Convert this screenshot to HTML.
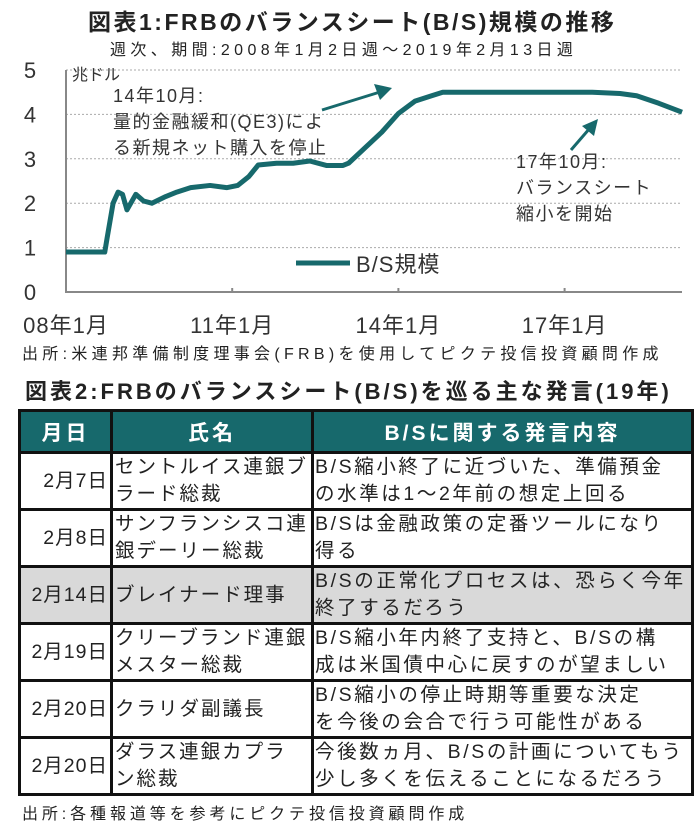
<!DOCTYPE html>
<html><head><meta charset="utf-8">
<style>
body{margin:0;width:700px;height:832px;background:#fff;font-family:"Liberation Sans","Noto Sans CJK JP",sans-serif;color:#222;position:relative;overflow:hidden}
.t{position:absolute;white-space:nowrap}
table{position:absolute;left:18px;top:409px;border-collapse:collapse;width:673px;table-layout:fixed}
td{border:3px solid #111;font-size:19.5px;line-height:27px;padding:0 2px;vertical-align:middle;white-space:nowrap;letter-spacing:2px;overflow:hidden}
td:nth-child(1){letter-spacing:1px}
td:nth-child(3){letter-spacing:2.6px;padding-left:1px}
th{background:#17696c;color:#fff;font-size:21px;height:37px;border:3px solid #111;font-weight:bold;letter-spacing:3px}
tr.r td{height:51px}
</style></head><body>
<div class="t" style="left:88px;top:3px;font-size:23px;font-weight:bold;letter-spacing:2.5px">図表1:FRBのバランスシート(B/S)規模の推移</div>
<div class="t" style="left:110px;top:36px;font-size:16px;letter-spacing:4.4px">週次、期間:2008年1月2日週～2019年2月13日週</div>
<svg id="ch" width="700" height="370" style="position:absolute;left:0;top:0"></svg>
<div class="t" style="left:22px;top:340px;font-size:16px;letter-spacing:4.3px">出所:米連邦準備制度理事会(FRB)を使用してピクテ投信投資顧問作成</div>
<div class="t" style="left:25px;top:374px;font-size:22px;font-weight:bold;letter-spacing:3px">図表2:FRBのバランスシート(B/S)を巡る主な発言(19年)</div>
<table>
<colgroup><col style="width:92px"><col style="width:201px"><col style="width:380px"></colgroup>
<tr><th>月日</th><th>氏名</th><th>B/Sに関する発言内容</th></tr>
<tr class="r"><td style="text-align:right">2月7日</td><td>セントルイス連銀ブ<br>ラード総裁</td><td>B/S縮小終了に近づいた、準備預金<br>の水準は1～2年前の想定上回る</td></tr>
<tr class="r"><td style="text-align:right">2月8日</td><td>サンフランシスコ連<br>銀デーリー総裁</td><td>B/Sは金融政策の定番ツールになり<br>得る</td></tr>
<tr class="r" style="background:#d9d9d9"><td style="text-align:right">2月14日</td><td>ブレイナード理事</td><td>B/Sの正常化プロセスは、恐らく今年<br>終了するだろう</td></tr>
<tr class="r"><td style="text-align:right">2月19日</td><td>クリーブランド連銀<br>メスター総裁</td><td>B/S縮小年内終了支持と、B/Sの構<br>成は米国債中心に戻すのが望ましい</td></tr>
<tr class="r"><td style="text-align:right">2月20日</td><td>クラリダ副議長</td><td>B/S縮小の停止時期等重要な決定<br>を今後の会合で行う可能性がある</td></tr>
<tr class="r"><td style="text-align:right">2月20日</td><td>ダラス連銀カプラ<br>ン総裁</td><td>今後数ヵ月、B/Sの計画についてもう<br>少し多くを伝えることになるだろう</td></tr>
</table>
<div class="t" style="left:22px;top:800px;font-size:16px;letter-spacing:3.9px">出所:各種報道等を参考にピクテ投信投資顧問作成</div>
<script>
const yTicks=[0,1,2,3,4,5];
const xTickYears=[2008,2011,2014,2017];
const xTickLabels=["08年1月","11年1月","14年1月","17年1月"];
const years=[2008.0,2008.7,2008.74,2008.85,2008.94,2009.02,2009.1,2009.26,2009.4,2009.55,2009.8,2010.0,2010.25,2010.6,2010.9,2011.1,2011.3,2011.47,2011.8,2012.1,2012.4,2012.7,2013.0,2013.1,2013.4,2013.7,2014.0,2014.3,2014.6,2014.8,2015.5,2016.5,2017.5,2018.0,2018.3,2018.7,2019.12];
const values=[0.9,0.9,1.2,2.0,2.25,2.2,1.85,2.2,2.05,2.0,2.15,2.25,2.35,2.4,2.35,2.4,2.6,2.86,2.9,2.9,2.95,2.85,2.85,2.9,3.25,3.6,4.02,4.3,4.42,4.5,4.5,4.5,4.5,4.47,4.42,4.25,4.05];
const NS="http://www.w3.org/2000/svg",svg=document.getElementById('ch');
const X=y=>66+(y-2008)*55.4, Y=v=>292-v*44.4;
function mk(t,a){const e=document.createElementNS(NS,t);for(const k in a)e.setAttribute(k,a[k]);svg.appendChild(e);return e;}
yTicks.forEach(v=>{
 if(v>0){const g=mk('line',{x1:66,x2:682,y1:Y(v),y2:Y(v),stroke:'#aaa','stroke-dasharray':'2,2'});
 
 }
 const t=mk('text',{x:30,y:Y(v)+8,'font-size':22,fill:'#333','text-anchor':'middle'});t.textContent=v;
 
 
});
const ax=mk('path',{d:'M66,'+Y(5)+' V292 H682',stroke:'#888','stroke-width':2,fill:'none'});


xTickYears.forEach((yr,i)=>{
 mk('line',{x1:X(yr),x2:X(yr),y1:288,y2:292,stroke:'#888','stroke-width':2});
 const t=mk('text',{x:X(yr),y:333,'font-size':22,fill:'#333','text-anchor':'middle','letter-spacing':1});t.textContent=xTickLabels[i];
 
 
});
const u=mk('text',{x:72,y:80,'font-size':16,fill:'#333'});u.textContent='兆ドル';


const ln=mk('polyline',{points:years.map((y,i)=>X(y)+','+Y(values[i])).join(' '),fill:'none',stroke:'#17696c','stroke-width':5,'stroke-linejoin':'round'});


mk('line',{x1:296,x2:350,y1:263,y2:263,stroke:'#17696c','stroke-width':5});
const lg=mk('text',{x:356,y:272,'font-size':22,fill:'#333','letter-spacing':1});lg.textContent='B/S規模';


[['14年10月:',113,102],['量的金融緩和(QE3)によ',113,128],['る新規ネット購入を停止',113,154],['17年10月:',516,168],['バランスシート',516,194],['縮小を開始',516,220]].forEach(a=>{
 const t=mk('text',{x:a[1],y:a[2],'font-size':18,fill:'#333','letter-spacing':1.5});t.textContent=a[0];
 
 
});
mk('line',{x1:322,x2:380,y1:110,y2:92,stroke:'#17696c','stroke-width':3});
mk('polygon',{points:'392,88 374,84 380,100',fill:'#17696c'});
mk('line',{x1:571,x2:590,y1:150,y2:128,stroke:'#17696c','stroke-width':3});
mk('polygon',{points:'598,119 582,126 594,136',fill:'#17696c'});
</script>
</body></html>
